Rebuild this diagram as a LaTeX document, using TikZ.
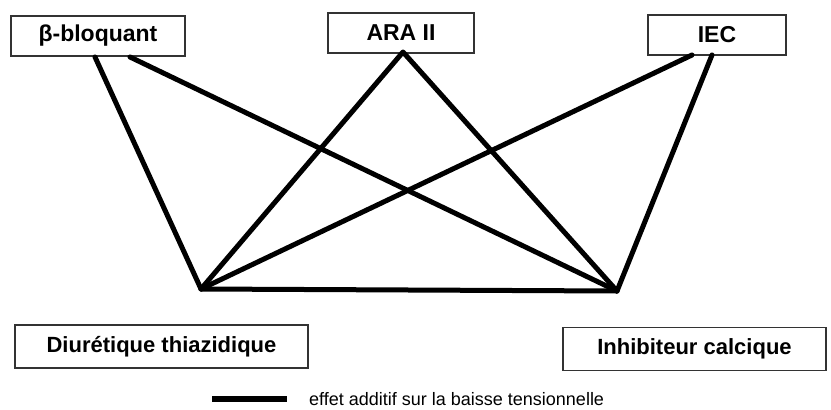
\documentclass[tikz,border=0pt]{standalone}
\usepackage{fontspec}
\setmainfont{Liberation Sans}
\begin{document}
\begin{tikzpicture}[x=1pt,y=-1pt,
  drug/.style={draw=black!80,line width=1.2pt,minimum height=40pt,inner sep=0pt,
    font=\fontsize{23}{26}\selectfont\bfseries},
  lowdrug/.style={drug,minimum height=43pt,font=\fontsize{22}{26}\selectfont\bfseries},
  link/.style={line width=5pt,line cap=round,line join=round}]
\useasboundingbox (0,0) rectangle (831,410);

% treatment classes
\node[drug,minimum width=174pt] (beta) at (98,36) {β-bloquant};
\node[drug,minimum width=146pt] (ara) at (401,33) {ARA II};
\node[drug,minimum width=138pt] (iec) at (717,35) {IEC};
\node[lowdrug,minimum width=293pt] (diu) at (161.5,346.5) {Diurétique thiazidique};
\node[lowdrug,minimum width=263pt] (ica) at (694.5,349) {Inhibiteur calcique};

% junction points of the combinations
\coordinate (d) at (201,289);
\coordinate (c) at (617,291);
\coordinate (b1) at (95,57);
\coordinate (b2) at (130,57);
\coordinate (a1) at (403,52);
\coordinate (e1) at (692,55);
\coordinate (e2) at (712,55);

% additive combinations
\draw[link] (b1) -- (d);
\draw[link] (b2) -- (c);
\draw[link] (d) -- (a1) -- (c);
\draw[link] (e1) -- (d);
\draw[link] (e2) -- (c);
\draw[link,line cap=butt] (d) -- (c);

% legend
\coordinate (l1) at (212,399);
\coordinate (l2) at (287,399);
\draw[line width=6pt] (l1) -- (l2);
\node[anchor=base west,inner sep=0pt,font=\fontsize{18}{21}\selectfont] (leg) at (309,405) {effet additif sur la baisse tensionnelle};
\end{tikzpicture}
\end{document}
